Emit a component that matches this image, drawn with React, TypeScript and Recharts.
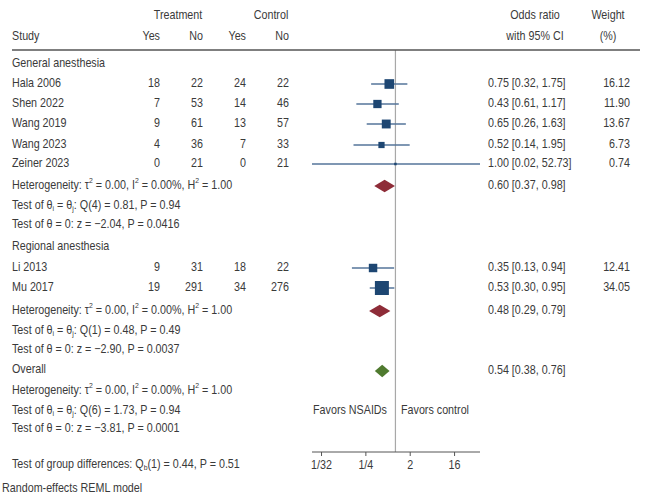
import React from 'react';
import {
  ComposedChart, Scatter, XAxis, YAxis, ReferenceLine, ReferenceArea
} from 'recharts';

// study level data
const studies = ['Hala 2006', 'Shen 2022', 'Wang 2019', 'Wang 2023', 'Zeiner 2023', 'Li 2013', 'Mu 2017'];
const treatYes = [18, 7, 9, 4, 0, 9, 19];
const treatNo = [22, 53, 61, 36, 21, 31, 291];
const ctrlYes = [24, 14, 13, 7, 0, 18, 34];
const ctrlNo = [22, 46, 57, 33, 21, 22, 276];
const oddsRatio = [0.75, 0.43, 0.65, 0.52, 1.0, 0.35, 0.53];
// lower bound (label for Shen says 0.61)
const ciLow = [0.32, 0.16, 0.26, 0.14, 0.02, 0.13, 0.30];
const ciHigh = [1.75, 1.17, 1.63, 1.95, 52.73, 0.94, 0.95];
const ciLabels = [
  '0.75 [0.32, 1.75]', '0.43 [0.61, 1.17]', '0.65 [0.26, 1.63]', '0.52 [0.14, 1.95]',
  '1.00 [0.02, 52.73]', '0.35 [0.13, 0.94]', '0.53 [0.30, 0.95]'
];
const weights = ['16.12', '11.90', '13.67', '6.73', '0.74', '12.41', '34.05'];
const studyRows = [1.7, 2.7, 3.7, 4.75, 5.7, 10.9, 11.9];

// pooled estimates: general, regional, overall
const pooledRows = [6.8, 13.05, 16.05];
const pooledOR = [0.60, 0.48, 0.54];
const pooledLow = [0.37, 0.29, 0.38];
const pooledHigh = [0.98, 0.79, 0.76];
const pooledLabels = ['0.60 [0.37, 0.98]', '0.48 [0.29, 0.79]', '0.54 [0.38, 0.76]'];
const pooledColors = ['#8e2c38', '#8e2c38', '#4f7a2f'];

const axisTicks = [1 / 32, 1 / 4, 2, 16];
const axisTickLabels = ['1/32', '1/4', '2', '16'];

const W = 648;
const H = 502;
const TOP = 50;
const ROW_PX = 20;
const TEXT = '#3a3a3a';
const FONT = '"Liberation Sans", Arial, sans-serif';
const FS = 12.5;
const SQUEEZE = 0.86; // the reference uses a condensed face

const log2 = (v: number) => Math.log2(v);
const rowY = (r: number) => TOP + r * ROW_PX;

const squareData = studies.map((s, i) => ({
  x: log2(oddsRatio[i]),
  y: studyRows[i],
  w: parseFloat(weights[i]),
}));

const Square = (props: any) => {
  const { cx, cy, payload } = props;
  const side = Math.max(2.5, 2.4 * Math.sqrt(payload.w));
  return <rect x={cx - side / 2} y={cy - side / 2} width={side} height={side} fill="#1d4672" />;
};

const diamond = (color: string) => (p: any) => {
  const x0 = Math.min(p.x, p.x + p.width);
  const x1 = Math.max(p.x, p.x + p.width);
  const y0 = Math.min(p.y, p.y + p.height);
  const y1 = Math.max(p.y, p.y + p.height);
  const cx = (x0 + x1) / 2;
  const cy = (y0 + y1) / 2;
  return <polygon points={`${x0},${cy} ${cx},${y0} ${x1},${cy} ${cx},${y1}`} fill={color} />;
};

const Txt = ({ x, y, anchor = 'start', children }: any) => (
  <text
    transform={`translate(${x} ${y}) scale(${SQUEEZE} 1)`}
    textAnchor={anchor}
    dominantBaseline="middle"
    fill={TEXT}
    fontSize={FS}
    fontFamily={FONT}
  >
    {children}
  </text>
);

const AxisTick = (props: any) => {
  const { x, y, payload } = props;
  const idx = axisTicks.map(log2).findIndex(t => Math.abs(t - payload.value) < 1e-6);
  return <Txt x={x} y={y + 8} anchor="middle">{axisTickLabels[idx]}</Txt>;
};

const Sub = ({ children }: any) => (
  <tspan fontSize={8} dy={3}>{children}</tspan>
);
const Sup = ({ children }: any) => (
  <tspan fontSize={8} dy={-5}>{children}</tspan>
);

const hetLine = (
  <>Heterogeneity: τ<Sup>2</Sup><tspan dy={5}> = 0.00, I</tspan><Sup>2</Sup><tspan dy={5}> = 0.00%, H</tspan><Sup>2</Sup><tspan dy={5}> = 1.00</tspan></>
);
const qLine = (q: string) => (
  <>Test of θ<Sub>i</Sub><tspan dy={-3}> = θ</tspan><Sub>j</Sub><tspan dy={-3}>: {q}</tspan></>
);

// summary text blocks per group
const groupTitles = ['General anesthesia', 'Regional anesthesia', 'Overall'];
const groupTitleRows = [0.7, 9.85, 16.0];
const statRows = [[6.8, 7.8, 8.75], [13.05, 14.05, 15.0], [17.05, 18.05, 18.95]];
const qTexts = ['Q(4) = 0.81, P = 0.94', 'Q(1) = 0.48, P = 0.49', 'Q(6) = 1.73, P = 0.94'];
const zTexts = [
  'Test of θ = 0: z = −2.04, P = 0.0416',
  'Test of θ = 0: z = −2.90, P = 0.0037',
  'Test of θ = 0: z = −3.81, P = 0.0001'
];

const Overlay = () => (
  <svg width={W} height={H} style={{ position: 'absolute', left: 0, top: 0, pointerEvents: 'none' }}>
    <Txt x={178} y={16} anchor="middle">Treatment</Txt>
    <Txt x={271} y={16} anchor="middle">Control</Txt>
    <Txt x={535} y={16} anchor="middle">Odds ratio</Txt>
    <Txt x={608} y={16} anchor="middle">Weight</Txt>
    <Txt x={12} y={37}>Study</Txt>
    <Txt x={160} y={37} anchor="end">Yes</Txt>
    <Txt x={203} y={37} anchor="end">No</Txt>
    <Txt x={246} y={37} anchor="end">Yes</Txt>
    <Txt x={289} y={37} anchor="end">No</Txt>
    <Txt x={535} y={37} anchor="middle">with 95% CI</Txt>
    <Txt x={608} y={37} anchor="middle">(%)</Txt>
    <line x1={12} x2={640} y1={50} y2={50} stroke="#555" strokeWidth={1.3} />

    {groupTitles.map((g, i) => (
      <Txt key={'g' + i} x={12} y={rowY(groupTitleRows[i])}>{g}</Txt>
    ))}
    {studies.map((s, i) => {
      const y = rowY(studyRows[i]);
      return (
        <g key={s + i}>
          <Txt x={12} y={y}>{s}</Txt>
          <Txt x={160} y={y} anchor="end">{treatYes[i]}</Txt>
          <Txt x={203} y={y} anchor="end">{treatNo[i]}</Txt>
          <Txt x={246} y={y} anchor="end">{ctrlYes[i]}</Txt>
          <Txt x={289} y={y} anchor="end">{ctrlNo[i]}</Txt>
          <Txt x={488} y={y}>{ciLabels[i]}</Txt>
          <Txt x={630} y={y} anchor="end">{weights[i]}</Txt>
        </g>
      );
    })}
    {pooledLabels.map((l, i) => (
      <Txt key={'p' + i} x={488} y={rowY(pooledRows[i])}>{l}</Txt>
    ))}
    {statRows.map((rows, i) => (
      <g key={'s' + i}>
        <Txt x={12} y={rowY(rows[0])}>{hetLine}</Txt>
        <Txt x={12} y={rowY(rows[1])}>{qLine(qTexts[i])}</Txt>
        <Txt x={12} y={rowY(rows[2])}>{zTexts[i]}</Txt>
      </g>
    ))}
    <Txt x={387} y={411} anchor="end">Favors NSAIDs</Txt>
    <Txt x={401} y={411}>Favors control</Txt>
    <Txt x={12} y={465}>Test of group differences: Q<Sub>b</Sub><tspan dy={-3}>(1) = 0.44, P = 0.51</tspan></Txt>
    <Txt x={2} y={489}>Random-effects REML model</Txt>
  </svg>
);

export default function App() {
  return (
    <div style={{ position: 'absolute', left: 0, top: 0, width: W, height: H, background: '#fff' }}>
      <ComposedChart width={W} height={H} margin={{ top: TOP, right: 168, bottom: 20, left: 312 }}>
        <XAxis
          type="number"
          dataKey="x"
          domain={[log2(0.02), log2(52.73)]}
          ticks={axisTicks.map(log2)}
          height={30}
          tickSize={4}
          stroke="#555"
          tick={<AxisTick />}
          allowDataOverflow
        />
        <YAxis type="number" dataKey="y" domain={[0, 20.1]} reversed hide width={0} allowDataOverflow />
        <ReferenceLine x={0} stroke="#a8a8a8" strokeWidth={1.2} ifOverflow="visible" />
        {studies.map((s, i) => (
          <ReferenceLine
            key={'ci' + i}
            segment={[{ x: log2(ciLow[i]), y: studyRows[i] }, { x: log2(ciHigh[i]), y: studyRows[i] }]}
            stroke="#55759a"
            strokeWidth={1.5}
            ifOverflow="visible"
          />
        ))}
        <Scatter data={squareData} dataKey="y" shape={<Square />} isAnimationActive={false} />
        {pooledOR.map((o, i) => (
          <ReferenceArea
            key={'d' + i}
            x1={log2(pooledLow[i])}
            x2={log2(pooledHigh[i])}
            y1={pooledRows[i] - 0.31}
            y2={pooledRows[i] + 0.31}
            shape={diamond(pooledColors[i])}
            ifOverflow="visible"
          />
        ))}
      </ComposedChart>
      <Overlay />
    </div>
  );
}
